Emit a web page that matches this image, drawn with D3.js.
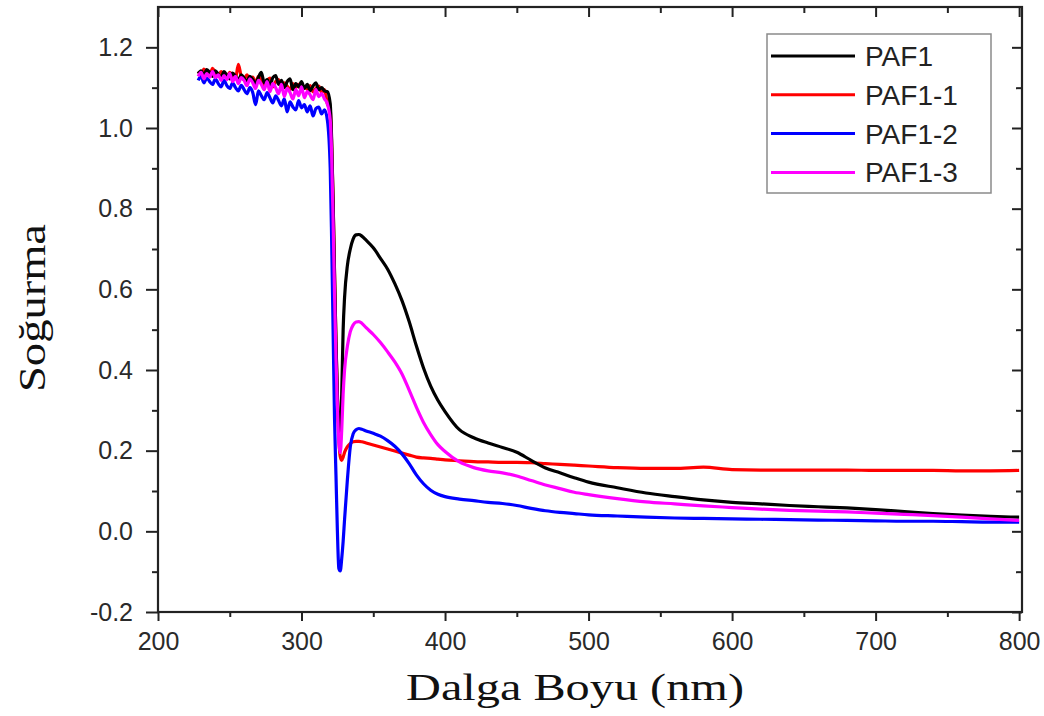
<!DOCTYPE html>
<html>
<head>
<meta charset="utf-8">
<script src="https://cdn.jsdelivr.net/npm/d3@7"></script>
<style>
  body { margin: 0; background: #fff; }
  svg { display: block; }
</style>
</head>
<body>
<div id="d3-graph"></div>

<script>
// wavelength grid (nm), shared by all four spectra
var wavelength = [228,230,232,234,236,238,240,242,244,246,248,250,252,254,256,258,260,262,264,266,268,270,272,274,276,278,280,282,284,286,288,290,292,294,296,298,300,302,304,306,308,310,312,314,316,
  318,320,321,322,323,324,325,326,327,328,329,330,
  332,334,336,338,340,342,
  345,350,355,360,365,370,375,380,385,390,395,400,
  410,420,430,440,450,460,470,480,490,500,
  520,540,560,580,600,620,640,660,680,700,720,740,760,780,800];

var paf1 = [1.135,1.142,1.130,1.145,1.138,1.128,1.142,1.133,1.125,1.140,1.130,1.122,1.136,1.128,1.118,1.132,1.124,1.115,1.128,1.120,1.110,1.126,1.138,1.112,1.120,1.105,1.125,1.130,1.108,1.118,1.100,1.115,1.122,1.095,1.110,1.102,1.115,1.098,1.108,1.092,1.104,1.112,1.095,1.100,1.092,
  1.09,1.06,0.97,0.82,0.64,0.47,0.34,0.26,0.24,0.34,0.50,0.58,
  0.66,0.70,0.725,0.735,0.736,0.732,
  0.722,0.703,0.677,0.650,0.614,0.572,0.52,0.46,0.405,0.36,0.325,0.297,
  0.252,0.232,0.219,0.208,0.196,0.176,0.157,0.145,0.133,0.122,
  0.108,0.095,0.086,0.078,0.072,0.068,0.064,0.061,0.058,0.054,0.049,0.044,0.040,0.037,0.035];

var paf1_1 = [1.140,1.132,1.146,1.138,1.130,1.148,1.136,1.128,1.140,1.132,1.125,1.138,1.130,1.122,1.158,1.128,1.120,1.132,1.118,1.126,1.112,1.128,1.120,1.106,1.118,1.124,1.102,1.115,1.120,1.098,1.112,1.104,1.095,1.110,1.100,1.108,1.092,1.102,1.096,1.105,1.090,1.098,1.104,1.088,1.095,
  1.06,1.045,0.96,0.82,0.64,0.47,0.33,0.23,0.185,0.176,0.184,0.196,
  0.21,0.218,0.222,0.223,0.223,0.222,
  0.219,0.214,0.209,0.204,0.199,0.194,0.189,0.184,0.182,0.181,0.179,0.177,
  0.175,0.173,0.172,0.171,0.171,0.170,0.168,0.166,0.164,0.162,
  0.158,0.156,0.156,0.159,0.153,0.152,0.152,0.152,0.152,0.151,0.151,0.151,0.150,0.150,0.151];

var paf1_2 = [1.118,1.128,1.112,1.124,1.115,1.108,1.122,1.110,1.102,1.118,1.105,1.098,1.112,1.100,1.092,1.106,1.095,1.085,1.100,1.088,1.058,1.092,1.080,1.070,1.088,1.075,1.062,1.080,1.068,1.055,1.072,1.040,1.065,1.052,1.045,1.068,1.050,1.058,1.040,1.055,1.030,1.048,1.052,1.035,1.045,
  1.02,0.90,0.72,0.50,0.28,0.14,0.0,-0.092,-0.098,-0.068,-0.025,0.03,
  0.13,0.21,0.242,0.252,0.255,0.253,
  0.249,0.243,0.236,0.225,0.211,0.192,0.168,0.14,0.118,0.102,0.092,0.086,
  0.080,0.076,0.072,0.069,0.064,0.057,0.051,0.047,0.044,0.041,
  0.038,0.035,0.033,0.032,0.031,0.030,0.029,0.028,0.027,0.026,0.025,0.025,0.024,0.023,0.023];

var paf1_3 = [1.128,1.138,1.122,1.135,1.126,1.140,1.125,1.132,1.118,1.130,1.120,1.135,1.115,1.128,1.110,1.125,1.118,1.105,1.122,1.112,1.098,1.118,1.108,1.095,1.115,1.090,1.110,1.100,1.085,1.108,1.078,1.098,1.088,1.072,1.095,1.080,1.102,1.075,1.090,1.082,1.070,1.095,1.078,1.085,1.072,
  1.06,1.02,0.93,0.77,0.59,0.43,0.31,0.22,0.195,0.25,0.34,0.40,
  0.46,0.495,0.512,0.519,0.52,0.516,
  0.505,0.488,0.468,0.445,0.42,0.39,0.35,0.308,0.27,0.24,0.215,0.198,
  0.172,0.158,0.150,0.145,0.137,0.126,0.115,0.106,0.097,0.091,
  0.081,0.073,0.068,0.063,0.059,0.055,0.052,0.050,0.048,0.045,0.042,0.039,0.035,0.031,0.027];

var seriesNames = ["PAF1", "PAF1-1", "PAF1-2", "PAF1-3"];
var seriesColors = ["#000000", "#ff0000", "#0000ff", "#ff00ff"];
var seriesValues = [paf1, paf1_1, paf1_2, paf1_3];
var drawOrder = [1, 2, 0, 3];

var xTicks = [200, 300, 400, 500, 600, 700, 800];
var xMinor = [250, 350, 450, 550, 650, 750];
var yTicks = [-0.2, 0.0, 0.2, 0.4, 0.6, 0.8, 1.0, 1.2];
var yMinor = [-0.1, 0.1, 0.3, 0.5, 0.7, 0.9, 1.1];

// set the dimensions and margins of the graph
const W = 1044, H = 716;
const margin = {top: 7, right: 22, bottom: 104, left: 158},
    width = W - margin.left - margin.right,
    height = H - margin.top - margin.bottom;

const svg = d3.select("#d3-graph")
  .append("svg")
    .attr("width", W)
    .attr("height", H)
  .append("g")
    .attr("transform", `translate(${margin.left},${margin.top})`);

const x = d3.scaleLinear().domain([200, 802]).range([0, width]);
const y = d3.scaleLinear().domain([-0.2, 1.3]).range([height, 0]);

const axisColor = "#222";
const labelFont = "'Liberation Sans', Arial, sans-serif";

function styleAxis(g) {
  g.selectAll("path.domain").remove();
  g.selectAll("line").attr("stroke", axisColor).attr("stroke-width", 2);
  g.selectAll("text")
    .attr("fill", "#2a2a2a")
    .style("font-family", labelFont)
    .style("font-size", "25px");
}

// bottom axis, outward ticks
svg.append("g")
  .attr("transform", `translate(0,${height})`)
  .call(d3.axisBottom(x).tickValues(xTicks).tickFormat(d3.format("d")).tickSize(9).tickPadding(11))
  .call(styleAxis);
svg.append("g")
  .attr("transform", `translate(0,${height})`)
  .call(d3.axisBottom(x).tickValues(xMinor).tickFormat("").tickSize(5))
  .call(styleAxis);

// left axis, outward ticks (plain hyphen for the minus sign)
svg.append("g")
  .call(d3.axisLeft(y).tickValues(yTicks)
    .tickFormat(function(d) { return d3.format(".1f")(d).replace("\u2212", "-"); })
    .tickSize(12).tickPadding(13))
  .call(styleAxis);
svg.append("g")
  .call(d3.axisLeft(y).tickValues(yMinor).tickFormat("").tickSize(6))
  .call(styleAxis);

// top and right axes, inward ticks
svg.append("g")
  .call(d3.axisTop(x).tickValues(xTicks).tickFormat("").tickSize(-10))
  .call(styleAxis);
svg.append("g")
  .call(d3.axisTop(x).tickValues(xMinor).tickFormat("").tickSize(-6))
  .call(styleAxis);
svg.append("g")
  .attr("transform", `translate(${width},0)`)
  .call(d3.axisRight(y).tickValues(yTicks).tickFormat("").tickSize(-10))
  .call(styleAxis);
svg.append("g")
  .attr("transform", `translate(${width},0)`)
  .call(d3.axisRight(y).tickValues(yMinor).tickFormat("").tickSize(-6))
  .call(styleAxis);

// the lines
const line = d3.line()
  .curve(d3.curveMonotoneX)
  .x(function(d, i) { return x(wavelength[i]); })
  .y(function(d) { return y(d); });

svg.append("defs").append("clipPath").attr("id", "plot-clip")
  .append("rect").attr("width", width).attr("height", height);

const lines = svg.append("g").attr("clip-path", "url(#plot-clip)");
drawOrder.forEach(function(k) {
  lines.append("path")
    .datum(seriesValues[k])
    .attr("fill", "none")
    .attr("stroke", seriesColors[k])
    .attr("stroke-width", 3.2)
    .attr("stroke-linejoin", "round")
    .attr("d", line);
});

// frame
svg.append("rect")
  .attr("width", width).attr("height", height)
  .attr("fill", "none")
  .attr("stroke", axisColor)
  .attr("stroke-width", 2.2);

// legend
const legX = 767 - margin.left, legY = 34 - margin.top;
const legend = svg.append("g").attr("transform", `translate(${legX},${legY})`);
legend.append("rect")
  .attr("width", 224).attr("height", 159)
  .attr("fill", "#fff")
  .attr("stroke", "#8a8a8a")
  .attr("stroke-width", 1.5);
seriesNames.forEach(function(name, i) {
  const cy = 22 + i * 38.8;
  legend.append("line")
    .attr("x1", 4).attr("x2", 88)
    .attr("y1", cy).attr("y2", cy)
    .attr("stroke", seriesColors[i])
    .attr("stroke-width", 3);
  legend.append("text")
    .attr("x", 98).attr("y", cy + 10)
    .attr("fill", "#222")
    .style("font-family", labelFont)
    .style("font-size", "28px")
    .text(name);
});

// axis titles
const titleFont = "'Liberation Serif', 'Times New Roman', serif";
svg.append("text")
  .attr("x", 575 - margin.left)
  .attr("y", 700 - margin.top)
  .attr("text-anchor", "middle")
  .attr("textLength", 338)
  .attr("lengthAdjust", "spacingAndGlyphs")
  .attr("fill", "#111")
  .style("font-family", titleFont)
  .style("font-size", "38px")
  .text("Dalga Boyu (nm)");

svg.append("text")
  .attr("transform", `translate(${45 - margin.left},${308 - margin.top}) rotate(-90)`)
  .attr("text-anchor", "middle")
  .attr("textLength", 168)
  .attr("lengthAdjust", "spacingAndGlyphs")
  .attr("fill", "#111")
  .style("font-family", titleFont)
  .style("font-size", "38px")
  .text("Soğurma");
</script>
</body>
</html>
